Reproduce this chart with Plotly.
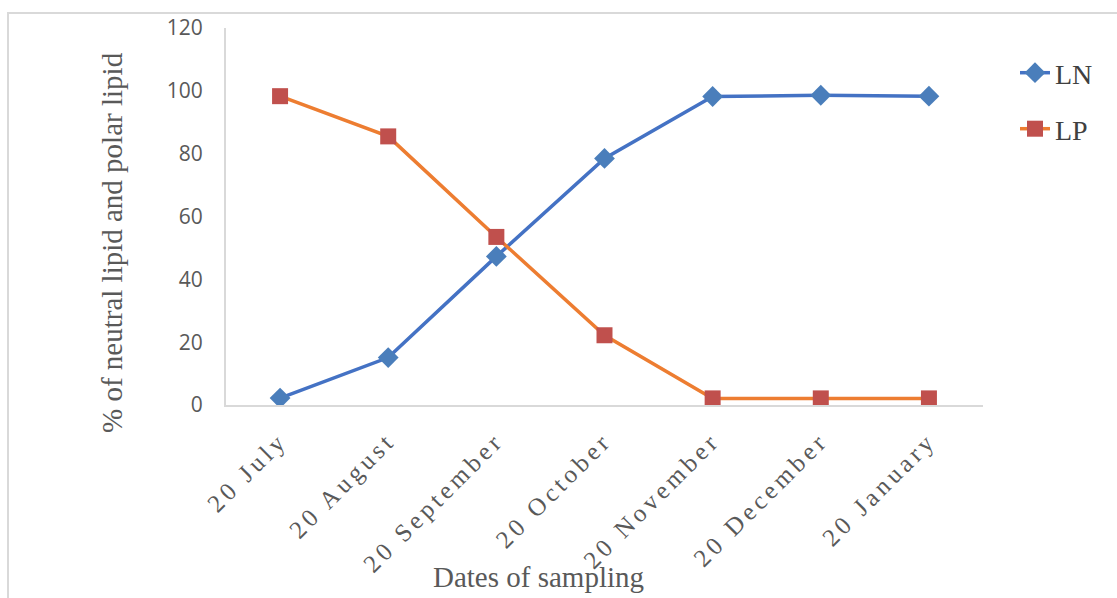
import plotly.graph_objects as go

dates = ["20 July", "20 August", "20 September", "20 October", "20 November", "20 December", "20 January"]
ln_values = [2.2, 15.1, 47.3, 78.5, 98.2, 98.6, 98.3]
lp_values = [98.3, 85.5, 53.5, 22.2, 2.1, 2.1, 2.1]

W, H = 1117, 598
L, R, T, B = 226, 983, 28, 405


def px(x):
    return (x - L) / (R - L)


def py(y):
    return (B - y) / (B - T)


fig = go.Figure()
fig.add_trace(go.Scatter(
    x=dates, y=ln_values, name="LN", mode="lines+markers",
    line=dict(color="#4472C4", width=3.5),
    marker=dict(symbol="diamond", size=16, color="#4A7EBB"),
    legend="legend",
))
fig.add_trace(go.Scatter(
    x=dates, y=lp_values, name="LP", mode="lines+markers",
    line=dict(color="#ED7D31", width=3.5),
    marker=dict(symbol="square", size=16, color="#C0504D"),
    legend="legend2",
))

fig.update_layout(
    width=W, height=H,
    margin=dict(l=L, r=W - R, t=T, b=H - B, autoexpand=False),
    paper_bgcolor="white", plot_bgcolor="white",
    xaxis=dict(
        type="category", range=[-0.5, 6.5], showgrid=False,
        showline=True, linecolor="#D9D9D9", linewidth=2,
        tickangle=-45, automargin=False, ticklabelstandoff=9,
        tickfont=dict(family="Liberation Serif", size=25, color="#595959"),
    ),
    yaxis=dict(
        range=[0, 120], dtick=20, showgrid=False, zeroline=False,
        showline=True, linecolor="#D9D9D9", linewidth=2,
        automargin=False, ticklabelstandoff=17,
        tickfont=dict(family="Open Sans", size=21, color="#595959"),
    ),
    legend=dict(
        x=px(1015), y=py(73), xanchor="left", yanchor="middle",
        font=dict(family="Liberation Serif", size=28, color="#404040"),
        bgcolor="rgba(0,0,0,0)",
    ),
    legend2=dict(
        x=px(1015), y=py(129), xanchor="left", yanchor="middle",
        font=dict(family="Liberation Serif", size=28, color="#404040"),
        bgcolor="rgba(0,0,0,0)",
    ),
    showlegend=True,
    shapes=[dict(
        type="rect", xref="paper", yref="paper",
        x0=px(8), x1=px(1130), y0=py(620), y1=py(13),
        line=dict(color="#D9D9D9", width=2), layer="below",
    )],
    annotations=[
        dict(text="% of neutral lipid and polar lipid", xref="paper", yref="paper",
             x=px(112), y=py(243), xanchor="center", yanchor="middle",
             textangle=-90, showarrow=False,
             font=dict(family="Liberation Serif", size=29, color="#595959")),
        dict(text="Dates of sampling", xref="paper", yref="paper",
             x=px(538), y=py(577), xanchor="center", yanchor="middle",
             showarrow=False,
             font=dict(family="Liberation Serif", size=29, color="#595959")),
    ],
)

post = (
    "document.body.style.margin='0';"
    "document.querySelectorAll('.xtick text').forEach(function(t){t.style.letterSpacing='4px';});"
)
fig.write_html("out.html", post_script=post, config={"displayModeBar": False})
